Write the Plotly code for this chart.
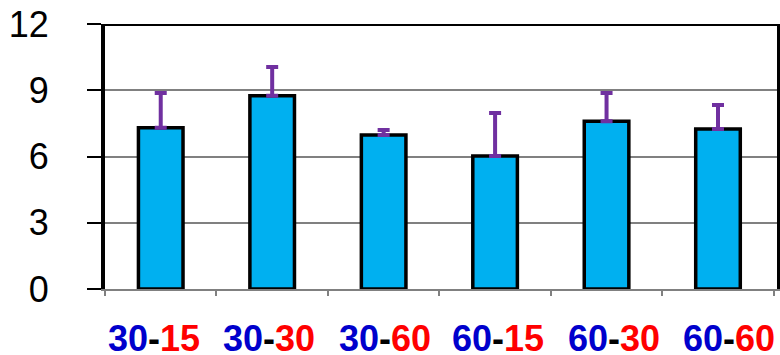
import plotly.graph_objects as go

first = ["30", "30", "30", "60", "60", "60"]
second = ["15", "30", "60", "15", "30", "60"]
categories = [f"{a}-{b}" for a, b in zip(first, second)]
values = [7.3, 8.75, 6.97, 6.02, 7.6, 7.25]
err_plus = [1.58, 1.3, 0.23, 1.95, 1.28, 1.08]
yticks = [0, 3, 6, 9, 12]
title_text = "Canola 2010"

label_xshift = [-7, -3, 1, 3, 7, 11]

fig = go.Figure()
fig.add_trace(go.Bar(
    x=categories, y=values, width=0.4,
    marker=dict(color="#00B0F0", line=dict(color="black", width=3.5)),
    error_y=dict(type="data", symmetric=False, array=err_plus,
                 arrayminus=[0] * len(values), color="#7030A0",
                 thickness=4, width=6),
))

fig.update_layout(
    width=780, height=355,
    margin=dict(l=105, r=3, t=24, b=66, autoexpand=False),
    paper_bgcolor="white", plot_bgcolor="white",
    font=dict(family="Liberation Sans, Arial", size=36, color="black"),
    showlegend=False,
    bargap=0.6,
)
fig.update_xaxes(
    type="category", showticklabels=False, automargin=False,
    tickson="boundaries", ticks="outside", ticklen=5, tickcolor="#808080",
    tickwidth=2, showline=True, linecolor="#808080", linewidth=2,
    showgrid=False,
)
fig.update_yaxes(
    range=[0, 12], tickvals=yticks, ticks="outside", ticklen=14,
    tickcolor="black", tickwidth=2, showline=True, linecolor="black",
    linewidth=4, mirror=True, showgrid=True, gridcolor="#808080",
    gridwidth=1.5, zeroline=False, ticklabelstandoff=31, automargin=False,
)
fig.add_shape(type="line", xref="paper", yref="y", x0=0, x1=1, y0=12, y1=12,
              line=dict(color="black", width=4))
for cat, a, b, dx in zip(categories, first, second, label_xshift):
    fig.add_annotation(
        text=f"<b><span style='color:#0000CC'>{a}</span>-<span style='color:#FF0000'>{b}</span></b>",
        x=cat, xref="x", yref="paper", y=-0.1, yanchor="top", xshift=dx,
        showarrow=False, font=dict(size=36))
fig.add_annotation(text=f"<b>{title_text}</b>", xref="paper", yref="paper",
                   x=0.43, y=1.054, xanchor="center", yanchor="bottom",
                   showarrow=False, font=dict(size=38, color="black"))
fig.write_html("out.html", config={"displayModeBar": False},
               post_script="document.body.style.margin='0px';document.body.style.overflow='hidden';")
